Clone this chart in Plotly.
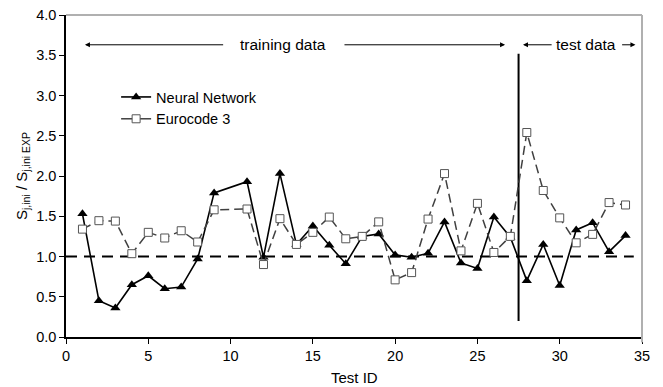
import plotly.graph_objects as go

test_id = [1, 2, 3, 4, 5, 6, 7, 8, 9, 11, 12, 13, 14, 15, 16, 17, 18, 19, 20,
           21, 22, 23, 24, 25, 26, 27, 28, 29, 30, 31, 32, 33, 34]
neural_network = [1.53, 0.45, 0.36, 0.65, 0.76, 0.60, 0.62, 0.97, 1.79, 1.93,
                  0.99, 2.03, 1.15, 1.38, 1.14, 0.91, 1.25, 1.28, 1.02, 0.99,
                  1.04, 1.43, 0.92, 0.85, 1.49, 1.24, 0.70, 1.15, 0.64, 1.33,
                  1.42, 1.06, 1.26]
eurocode3 = [1.34, 1.445, 1.44, 1.035, 1.30, 1.23, 1.32, 1.18, 1.58, 1.59,
             0.90, 1.47, 1.15, 1.30, 1.49, 1.22, 1.25, 1.43, 0.71, 0.80,
             1.465, 2.03, 1.07, 1.66, 1.05, 1.25, 2.54, 1.82, 1.48, 1.17,
             1.275, 1.67, 1.64]
x_ticks = [0, 5, 10, 15, 20, 25, 30, 35]
y_ticks = [0.0, 0.5, 1.0, 1.5, 2.0, 2.5, 3.0, 3.5, 4.0]
ref_line_x = [0, 34.5]
ref_line_y = [1.0, 1.0]
split_x = 27.5
split_y = [0.2, 3.52]
arrow_y = 3.63

FONT = "Liberation Sans, Arial, sans-serif"

fig = go.Figure()

fig.add_trace(go.Scatter(
    x=ref_line_x, y=ref_line_y, mode="lines", showlegend=False,
    line=dict(color="black", width=2, dash="11px,7px"), hoverinfo="skip"))

fig.add_trace(go.Scatter(
    x=[split_x, split_x], y=split_y, mode="lines", showlegend=False,
    line=dict(color="black", width=2), hoverinfo="skip"))

fig.add_trace(go.Scatter(
    x=test_id, y=neural_network, mode="lines+markers", name="Neural Network",
    line=dict(color="black", width=1.6),
    marker=dict(symbol="triangle-up", size=9, color="black")))

fig.add_trace(go.Scatter(
    x=test_id, y=eurocode3, mode="lines+markers", name="Eurocode 3",
    showlegend=False,
    line=dict(color="#404040", width=1.5, dash="9px,5px"),
    marker=dict(symbol="square", size=8, color="white",
                line=dict(color="#555555", width=1))))

# legend entry only (solid short line as in the reference legend)
fig.add_trace(go.Scatter(
    x=[None], y=[None], mode="lines+markers", name="Eurocode 3",
    line=dict(color="#404040", width=1.5),
    marker=dict(symbol="square", size=8, color="white",
                line=dict(color="#555555", width=1))))

def arrow(x_head, x_tail):
    return dict(x=x_head, y=arrow_y, ax=x_tail, ay=arrow_y, xref="x", yref="y",
                axref="x", ayref="y", text="", showarrow=True, arrowhead=2,
                arrowsize=1, arrowwidth=1, arrowcolor="black")

anns = [
    arrow(1.15, 9.64), arrow(26.68, 16.83),
    arrow(27.77, 29.6), arrow(34.6, 33.7),
    dict(x=13.17, y=arrow_y, xref="x", yref="y", text="training data",
         showarrow=False, font=dict(family=FONT, size=15.5, color="black")),
    dict(x=31.62, y=arrow_y, xref="x", yref="y", text="test data",
         showarrow=False, font=dict(family=FONT, size=15.5, color="black")),
    dict(x=-0.0764, y=0.5, xref="paper", yref="paper", textangle=-90,
         xanchor="center", yanchor="middle",
         text="S<sub>j,ini</sub> / S<sub>j,ini EXP</sub>", showarrow=False,
         font=dict(family=FONT, size=15, color="black")),
    dict(x=0.501, y=-0.127, xref="paper", yref="paper",
         xanchor="center", yanchor="middle", text="Test ID", showarrow=False,
         font=dict(family=FONT, size=15, color="black")),
]

fig.update_layout(
    width=663, height=387,
    margin=dict(l=66, r=21, t=15, b=50, autoexpand=False),
    paper_bgcolor="white", plot_bgcolor="white",
    font=dict(family=FONT, size=14.5, color="black"),
    annotations=anns,
    legend=dict(x=0.087, y=0.795, xanchor="left", yanchor="top",
                bgcolor="rgba(0,0,0,0)", font=dict(family=FONT, size=14.5, color="black"),
                tracegroupgap=0),
    shapes=[
        dict(type="line", xref="paper", yref="paper", x0=0, x1=1, y0=1, y1=1,
             line=dict(color="#b0b0b0", width=2)),
        dict(type="line", xref="paper", yref="paper", x0=1, x1=1, y0=-0.016, y1=1,
             line=dict(color="#b0b0b0", width=2)),
    ],
)

fig.update_xaxes(range=[0, 35], tickvals=x_ticks, ticktext=[str(v) for v in x_ticks],
                 showgrid=False, zeroline=False, showline=True, linecolor="black",
                 linewidth=1.5, ticks="outside", ticklen=5, tickcolor="black",
                 automargin=False)
fig.update_yaxes(range=[0, 4], tickvals=y_ticks, ticktext=[f"{v:.1f}" for v in y_ticks],
                 showgrid=False, zeroline=False, showline=True, linecolor="black",
                 linewidth=1.5, ticks="outside", ticklen=5, tickcolor="black",
                 automargin=False)

fig.write_html("out.html", config={"displayModeBar": False},
               post_script="document.body.style.margin='0';document.body.style.padding='0';")
